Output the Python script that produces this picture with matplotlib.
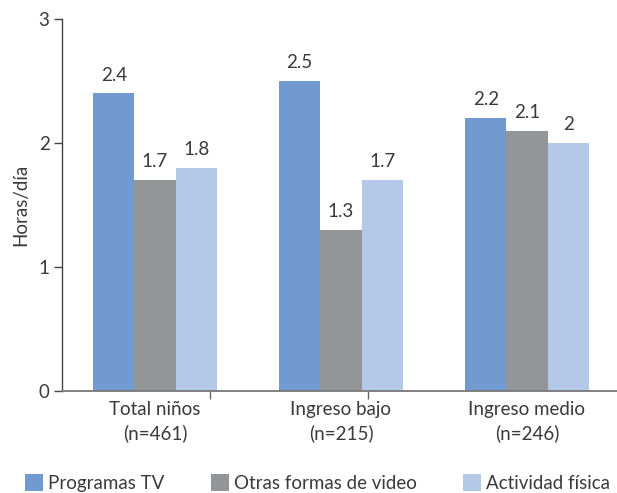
import numpy as np
import matplotlib.pyplot as plt

# data
groups = ['Total niños\n(n=461)', 'Ingreso bajo\n(n=215)', 'Ingreso medio\n(n=246)']
series = ['Programas TV', 'Otras formas de video', 'Actividad física']
tv = [2.4, 2.5, 2.2]
video = [1.7, 1.3, 2.1]
fisica = [1.8, 1.7, 2.0]
value_labels = [['2.4', '2.5', '2.2'], ['1.7', '1.3', '2.1'], ['1.8', '1.7', '2']]
colors = ['#709ad0', '#939598', '#b4c8e8']
sep_ticks = [0.295, 1.145]   # odd little tick marks on the x axis, kept as in the original

plt.rcParams['font.family'] = ['Lato', 'DejaVu Sans']
txt = '#3a3a3a'
fs = 13.5

fig = plt.figure(figsize=(6.17, 4.93), dpi=100)
ax = fig.add_axes([62/617, 1-391/493, 558/617, 372/493])

x = np.arange(len(groups))
w = 0.222
for i, vals in enumerate([tv, video, fisica]):
    bars = ax.bar(x + (i-1)*w, vals, width=w, color=colors[i], label=series[i])
    for b, lab in zip(bars, value_labels[i]):
        ax.annotate(lab, (b.get_x() + b.get_width()/2, b.get_height()),
                    xytext=(0, 7), textcoords='offset points',
                    ha='center', va='bottom', fontsize=fs, color=txt)

ax.set_xlim(-0.5, 2.5)
ax.set_ylim(0, 3)
ax.set_yticks([0, 1, 2, 3])
ax.set_yticklabels(['0', '1', '2', '3'])
ax.set_xticks(x)
ax.set_xticklabels(groups, fontsize=fs, color=txt, linespacing=1.45)
ax.tick_params(axis='x', length=0, pad=7)
ax.set_xticks(sep_ticks, minor=True)
ax.tick_params(axis='x', which='minor', length=6, width=1, color='#666666')
ax.tick_params(axis='y', length=6, width=1, color='#444444', labelsize=fs, labelcolor=txt, pad=3)
ax.set_ylabel('Horas/día', fontsize=fs, color=txt, labelpad=7)

for s in ['top', 'right']:
    ax.spines[s].set_visible(False)
ax.spines['left'].set_color('#444444')
ax.spines['bottom'].set_color('#777777')
ax.spines['left'].set_linewidth(1)
ax.spines['bottom'].set_linewidth(1.3)

fig.legend(loc='upper left', bbox_to_anchor=(25/617, 1-474/493), ncol=3, frameon=False,
           fontsize=fs, handlelength=0.95, handleheight=1.0, handletextpad=0.3,
           columnspacing=2.45, borderpad=0, borderaxespad=0, labelcolor=txt)

fig.savefig('out.png', dpi=100)
